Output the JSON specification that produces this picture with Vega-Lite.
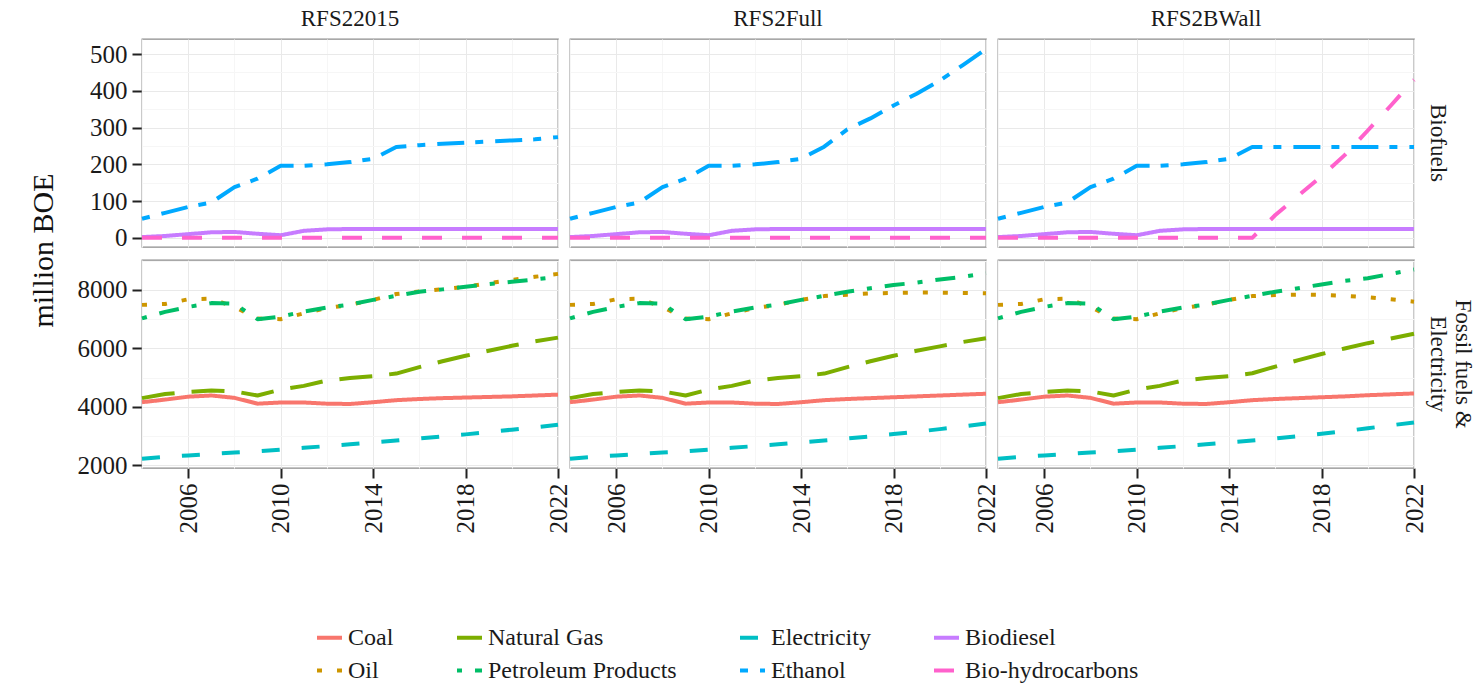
{
"$schema": "https://vega.github.io/schema/vega-lite/v6.json",
"padding": {"left": 28, "top": 8, "right": 2, "bottom": 2},
"title": {"text": "million BOE", "orient": "left", "anchor": "middle", "font": "Liberation Serif", "fontSize": 30, "fontWeight": "normal", "color": "#111111", "offset": 18, "dx": 95},
"data": {"values": [
{"s":"RFS22015","g":"F","f":"Coal","t":2004,"v":4160},{"s":"RFS22015","g":"F","f":"Coal","t":2005,"v":4250},{"s":"RFS22015","g":"F","f":"Coal","t":2006,"v":4350},{"s":"RFS22015","g":"F","f":"Coal","t":2007,"v":4390},{"s":"RFS22015","g":"F","f":"Coal","t":2008,"v":4310},{"s":"RFS22015","g":"F","f":"Coal","t":2009,"v":4110},{"s":"RFS22015","g":"F","f":"Coal","t":2010,"v":4150},{"s":"RFS22015","g":"F","f":"Coal","t":2011,"v":4150},{"s":"RFS22015","g":"F","f":"Coal","t":2012,"v":4110},{"s":"RFS22015","g":"F","f":"Coal","t":2013,"v":4100},{"s":"RFS22015","g":"F","f":"Coal","t":2014,"v":4160},{"s":"RFS22015","g":"F","f":"Coal","t":2015,"v":4230},{"s":"RFS22015","g":"F","f":"Coal","t":2016,"v":4270},{"s":"RFS22015","g":"F","f":"Coal","t":2017,"v":4300},{"s":"RFS22015","g":"F","f":"Coal","t":2018,"v":4320},{"s":"RFS22015","g":"F","f":"Coal","t":2019,"v":4340},{"s":"RFS22015","g":"F","f":"Coal","t":2020,"v":4360},{"s":"RFS22015","g":"F","f":"Coal","t":2021,"v":4390},{"s":"RFS22015","g":"F","f":"Coal","t":2022,"v":4420},
{"s":"RFS22015","g":"F","f":"Oil","t":2004,"v":7490},{"s":"RFS22015","g":"F","f":"Oil","t":2005,"v":7520},{"s":"RFS22015","g":"F","f":"Oil","t":2006,"v":7680},{"s":"RFS22015","g":"F","f":"Oil","t":2007,"v":7700},{"s":"RFS22015","g":"F","f":"Oil","t":2008,"v":7420},{"s":"RFS22015","g":"F","f":"Oil","t":2009,"v":7020},{"s":"RFS22015","g":"F","f":"Oil","t":2010,"v":7000},{"s":"RFS22015","g":"F","f":"Oil","t":2011,"v":7200},{"s":"RFS22015","g":"F","f":"Oil","t":2012,"v":7380},{"s":"RFS22015","g":"F","f":"Oil","t":2013,"v":7490},{"s":"RFS22015","g":"F","f":"Oil","t":2014,"v":7660},{"s":"RFS22015","g":"F","f":"Oil","t":2015,"v":7860},{"s":"RFS22015","g":"F","f":"Oil","t":2016,"v":7950},{"s":"RFS22015","g":"F","f":"Oil","t":2017,"v":8030},{"s":"RFS22015","g":"F","f":"Oil","t":2018,"v":8110},{"s":"RFS22015","g":"F","f":"Oil","t":2019,"v":8230},{"s":"RFS22015","g":"F","f":"Oil","t":2020,"v":8340},{"s":"RFS22015","g":"F","f":"Oil","t":2021,"v":8450},{"s":"RFS22015","g":"F","f":"Oil","t":2022,"v":8550},
{"s":"RFS22015","g":"F","f":"Natural Gas","t":2004,"v":4300},{"s":"RFS22015","g":"F","f":"Natural Gas","t":2005,"v":4440},{"s":"RFS22015","g":"F","f":"Natural Gas","t":2006,"v":4510},{"s":"RFS22015","g":"F","f":"Natural Gas","t":2007,"v":4560},{"s":"RFS22015","g":"F","f":"Natural Gas","t":2008,"v":4530},{"s":"RFS22015","g":"F","f":"Natural Gas","t":2009,"v":4390},{"s":"RFS22015","g":"F","f":"Natural Gas","t":2010,"v":4590},{"s":"RFS22015","g":"F","f":"Natural Gas","t":2011,"v":4720},{"s":"RFS22015","g":"F","f":"Natural Gas","t":2012,"v":4900},{"s":"RFS22015","g":"F","f":"Natural Gas","t":2013,"v":4990},{"s":"RFS22015","g":"F","f":"Natural Gas","t":2014,"v":5050},{"s":"RFS22015","g":"F","f":"Natural Gas","t":2015,"v":5140},{"s":"RFS22015","g":"F","f":"Natural Gas","t":2016,"v":5360},{"s":"RFS22015","g":"F","f":"Natural Gas","t":2017,"v":5560},{"s":"RFS22015","g":"F","f":"Natural Gas","t":2018,"v":5750},{"s":"RFS22015","g":"F","f":"Natural Gas","t":2019,"v":5920},{"s":"RFS22015","g":"F","f":"Natural Gas","t":2020,"v":6090},{"s":"RFS22015","g":"F","f":"Natural Gas","t":2021,"v":6240},{"s":"RFS22015","g":"F","f":"Natural Gas","t":2022,"v":6370},
{"s":"RFS22015","g":"F","f":"Petroleum Products","t":2004,"v":7030},{"s":"RFS22015","g":"F","f":"Petroleum Products","t":2005,"v":7250},{"s":"RFS22015","g":"F","f":"Petroleum Products","t":2006,"v":7420},{"s":"RFS22015","g":"F","f":"Petroleum Products","t":2007,"v":7550},{"s":"RFS22015","g":"F","f":"Petroleum Products","t":2008,"v":7530},{"s":"RFS22015","g":"F","f":"Petroleum Products","t":2009,"v":7000},{"s":"RFS22015","g":"F","f":"Petroleum Products","t":2010,"v":7090},{"s":"RFS22015","g":"F","f":"Petroleum Products","t":2011,"v":7260},{"s":"RFS22015","g":"F","f":"Petroleum Products","t":2012,"v":7400},{"s":"RFS22015","g":"F","f":"Petroleum Products","t":2013,"v":7500},{"s":"RFS22015","g":"F","f":"Petroleum Products","t":2014,"v":7660},{"s":"RFS22015","g":"F","f":"Petroleum Products","t":2015,"v":7800},{"s":"RFS22015","g":"F","f":"Petroleum Products","t":2016,"v":7940},{"s":"RFS22015","g":"F","f":"Petroleum Products","t":2017,"v":8020},{"s":"RFS22015","g":"F","f":"Petroleum Products","t":2018,"v":8110},{"s":"RFS22015","g":"F","f":"Petroleum Products","t":2019,"v":8200},{"s":"RFS22015","g":"F","f":"Petroleum Products","t":2020,"v":8280},{"s":"RFS22015","g":"F","f":"Petroleum Products","t":2021,"v":8360},{"s":"RFS22015","g":"F","f":"Petroleum Products","t":2022,"v":8450},
{"s":"RFS22015","g":"F","f":"Electricity","t":2004,"v":2230},{"s":"RFS22015","g":"F","f":"Electricity","t":2005,"v":2290},{"s":"RFS22015","g":"F","f":"Electricity","t":2006,"v":2340},{"s":"RFS22015","g":"F","f":"Electricity","t":2007,"v":2390},{"s":"RFS22015","g":"F","f":"Electricity","t":2008,"v":2440},{"s":"RFS22015","g":"F","f":"Electricity","t":2009,"v":2480},{"s":"RFS22015","g":"F","f":"Electricity","t":2010,"v":2540},{"s":"RFS22015","g":"F","f":"Electricity","t":2011,"v":2600},{"s":"RFS22015","g":"F","f":"Electricity","t":2012,"v":2660},{"s":"RFS22015","g":"F","f":"Electricity","t":2013,"v":2720},{"s":"RFS22015","g":"F","f":"Electricity","t":2014,"v":2790},{"s":"RFS22015","g":"F","f":"Electricity","t":2015,"v":2850},{"s":"RFS22015","g":"F","f":"Electricity","t":2016,"v":2920},{"s":"RFS22015","g":"F","f":"Electricity","t":2017,"v":2990},{"s":"RFS22015","g":"F","f":"Electricity","t":2018,"v":3060},{"s":"RFS22015","g":"F","f":"Electricity","t":2019,"v":3140},{"s":"RFS22015","g":"F","f":"Electricity","t":2020,"v":3220},{"s":"RFS22015","g":"F","f":"Electricity","t":2021,"v":3300},{"s":"RFS22015","g":"F","f":"Electricity","t":2022,"v":3390},
{"s":"RFS22015","g":"B","f":"Ethanol","t":2004,"v":52},{"s":"RFS22015","g":"B","f":"Ethanol","t":2005,"v":68},{"s":"RFS22015","g":"B","f":"Ethanol","t":2006,"v":84},{"s":"RFS22015","g":"B","f":"Ethanol","t":2007,"v":96},{"s":"RFS22015","g":"B","f":"Ethanol","t":2008,"v":138},{"s":"RFS22015","g":"B","f":"Ethanol","t":2009,"v":161},{"s":"RFS22015","g":"B","f":"Ethanol","t":2010,"v":196},{"s":"RFS22015","g":"B","f":"Ethanol","t":2011,"v":196},{"s":"RFS22015","g":"B","f":"Ethanol","t":2012,"v":200},{"s":"RFS22015","g":"B","f":"Ethanol","t":2013,"v":206},{"s":"RFS22015","g":"B","f":"Ethanol","t":2014,"v":215},{"s":"RFS22015","g":"B","f":"Ethanol","t":2015,"v":247},{"s":"RFS22015","g":"B","f":"Ethanol","t":2016,"v":252},{"s":"RFS22015","g":"B","f":"Ethanol","t":2017,"v":256},{"s":"RFS22015","g":"B","f":"Ethanol","t":2018,"v":259},{"s":"RFS22015","g":"B","f":"Ethanol","t":2019,"v":262},{"s":"RFS22015","g":"B","f":"Ethanol","t":2020,"v":265},{"s":"RFS22015","g":"B","f":"Ethanol","t":2021,"v":268},{"s":"RFS22015","g":"B","f":"Ethanol","t":2022,"v":274},
{"s":"RFS22015","g":"B","f":"Biodiesel","t":2004,"v":2},{"s":"RFS22015","g":"B","f":"Biodiesel","t":2005,"v":5},{"s":"RFS22015","g":"B","f":"Biodiesel","t":2006,"v":10},{"s":"RFS22015","g":"B","f":"Biodiesel","t":2007,"v":15},{"s":"RFS22015","g":"B","f":"Biodiesel","t":2008,"v":16},{"s":"RFS22015","g":"B","f":"Biodiesel","t":2009,"v":11},{"s":"RFS22015","g":"B","f":"Biodiesel","t":2010,"v":7},{"s":"RFS22015","g":"B","f":"Biodiesel","t":2011,"v":19},{"s":"RFS22015","g":"B","f":"Biodiesel","t":2012,"v":23},{"s":"RFS22015","g":"B","f":"Biodiesel","t":2013,"v":24},{"s":"RFS22015","g":"B","f":"Biodiesel","t":2014,"v":24},{"s":"RFS22015","g":"B","f":"Biodiesel","t":2015,"v":24},{"s":"RFS22015","g":"B","f":"Biodiesel","t":2016,"v":24},{"s":"RFS22015","g":"B","f":"Biodiesel","t":2017,"v":24},{"s":"RFS22015","g":"B","f":"Biodiesel","t":2018,"v":24},{"s":"RFS22015","g":"B","f":"Biodiesel","t":2019,"v":24},{"s":"RFS22015","g":"B","f":"Biodiesel","t":2020,"v":24},{"s":"RFS22015","g":"B","f":"Biodiesel","t":2021,"v":24},{"s":"RFS22015","g":"B","f":"Biodiesel","t":2022,"v":24},
{"s":"RFS22015","g":"B","f":"Bio-hydrocarbons","t":2004,"v":0},{"s":"RFS22015","g":"B","f":"Bio-hydrocarbons","t":2005,"v":0},{"s":"RFS22015","g":"B","f":"Bio-hydrocarbons","t":2006,"v":0},{"s":"RFS22015","g":"B","f":"Bio-hydrocarbons","t":2007,"v":0},{"s":"RFS22015","g":"B","f":"Bio-hydrocarbons","t":2008,"v":0},{"s":"RFS22015","g":"B","f":"Bio-hydrocarbons","t":2009,"v":0},{"s":"RFS22015","g":"B","f":"Bio-hydrocarbons","t":2010,"v":0},{"s":"RFS22015","g":"B","f":"Bio-hydrocarbons","t":2011,"v":0},{"s":"RFS22015","g":"B","f":"Bio-hydrocarbons","t":2012,"v":0},{"s":"RFS22015","g":"B","f":"Bio-hydrocarbons","t":2013,"v":0},{"s":"RFS22015","g":"B","f":"Bio-hydrocarbons","t":2014,"v":0},{"s":"RFS22015","g":"B","f":"Bio-hydrocarbons","t":2015,"v":0},{"s":"RFS22015","g":"B","f":"Bio-hydrocarbons","t":2016,"v":0},{"s":"RFS22015","g":"B","f":"Bio-hydrocarbons","t":2017,"v":0},{"s":"RFS22015","g":"B","f":"Bio-hydrocarbons","t":2018,"v":0},{"s":"RFS22015","g":"B","f":"Bio-hydrocarbons","t":2019,"v":0},{"s":"RFS22015","g":"B","f":"Bio-hydrocarbons","t":2020,"v":0},{"s":"RFS22015","g":"B","f":"Bio-hydrocarbons","t":2021,"v":0},{"s":"RFS22015","g":"B","f":"Bio-hydrocarbons","t":2022,"v":0},
{"s":"RFS2Full","g":"F","f":"Coal","t":2004,"v":4160},{"s":"RFS2Full","g":"F","f":"Coal","t":2005,"v":4250},{"s":"RFS2Full","g":"F","f":"Coal","t":2006,"v":4350},{"s":"RFS2Full","g":"F","f":"Coal","t":2007,"v":4390},{"s":"RFS2Full","g":"F","f":"Coal","t":2008,"v":4310},{"s":"RFS2Full","g":"F","f":"Coal","t":2009,"v":4110},{"s":"RFS2Full","g":"F","f":"Coal","t":2010,"v":4150},{"s":"RFS2Full","g":"F","f":"Coal","t":2011,"v":4150},{"s":"RFS2Full","g":"F","f":"Coal","t":2012,"v":4110},{"s":"RFS2Full","g":"F","f":"Coal","t":2013,"v":4100},{"s":"RFS2Full","g":"F","f":"Coal","t":2014,"v":4160},{"s":"RFS2Full","g":"F","f":"Coal","t":2015,"v":4230},{"s":"RFS2Full","g":"F","f":"Coal","t":2016,"v":4270},{"s":"RFS2Full","g":"F","f":"Coal","t":2017,"v":4300},{"s":"RFS2Full","g":"F","f":"Coal","t":2018,"v":4330},{"s":"RFS2Full","g":"F","f":"Coal","t":2019,"v":4360},{"s":"RFS2Full","g":"F","f":"Coal","t":2020,"v":4390},{"s":"RFS2Full","g":"F","f":"Coal","t":2021,"v":4420},{"s":"RFS2Full","g":"F","f":"Coal","t":2022,"v":4450},
{"s":"RFS2Full","g":"F","f":"Oil","t":2004,"v":7490},{"s":"RFS2Full","g":"F","f":"Oil","t":2005,"v":7520},{"s":"RFS2Full","g":"F","f":"Oil","t":2006,"v":7680},{"s":"RFS2Full","g":"F","f":"Oil","t":2007,"v":7700},{"s":"RFS2Full","g":"F","f":"Oil","t":2008,"v":7420},{"s":"RFS2Full","g":"F","f":"Oil","t":2009,"v":7020},{"s":"RFS2Full","g":"F","f":"Oil","t":2010,"v":7000},{"s":"RFS2Full","g":"F","f":"Oil","t":2011,"v":7200},{"s":"RFS2Full","g":"F","f":"Oil","t":2012,"v":7380},{"s":"RFS2Full","g":"F","f":"Oil","t":2013,"v":7490},{"s":"RFS2Full","g":"F","f":"Oil","t":2014,"v":7660},{"s":"RFS2Full","g":"F","f":"Oil","t":2015,"v":7790},{"s":"RFS2Full","g":"F","f":"Oil","t":2016,"v":7840},{"s":"RFS2Full","g":"F","f":"Oil","t":2017,"v":7880},{"s":"RFS2Full","g":"F","f":"Oil","t":2018,"v":7900},{"s":"RFS2Full","g":"F","f":"Oil","t":2019,"v":7910},{"s":"RFS2Full","g":"F","f":"Oil","t":2020,"v":7910},{"s":"RFS2Full","g":"F","f":"Oil","t":2021,"v":7900},{"s":"RFS2Full","g":"F","f":"Oil","t":2022,"v":7890},
{"s":"RFS2Full","g":"F","f":"Natural Gas","t":2004,"v":4300},{"s":"RFS2Full","g":"F","f":"Natural Gas","t":2005,"v":4440},{"s":"RFS2Full","g":"F","f":"Natural Gas","t":2006,"v":4510},{"s":"RFS2Full","g":"F","f":"Natural Gas","t":2007,"v":4560},{"s":"RFS2Full","g":"F","f":"Natural Gas","t":2008,"v":4530},{"s":"RFS2Full","g":"F","f":"Natural Gas","t":2009,"v":4390},{"s":"RFS2Full","g":"F","f":"Natural Gas","t":2010,"v":4590},{"s":"RFS2Full","g":"F","f":"Natural Gas","t":2011,"v":4720},{"s":"RFS2Full","g":"F","f":"Natural Gas","t":2012,"v":4900},{"s":"RFS2Full","g":"F","f":"Natural Gas","t":2013,"v":4990},{"s":"RFS2Full","g":"F","f":"Natural Gas","t":2014,"v":5050},{"s":"RFS2Full","g":"F","f":"Natural Gas","t":2015,"v":5140},{"s":"RFS2Full","g":"F","f":"Natural Gas","t":2016,"v":5360},{"s":"RFS2Full","g":"F","f":"Natural Gas","t":2017,"v":5560},{"s":"RFS2Full","g":"F","f":"Natural Gas","t":2018,"v":5750},{"s":"RFS2Full","g":"F","f":"Natural Gas","t":2019,"v":5920},{"s":"RFS2Full","g":"F","f":"Natural Gas","t":2020,"v":6070},{"s":"RFS2Full","g":"F","f":"Natural Gas","t":2021,"v":6220},{"s":"RFS2Full","g":"F","f":"Natural Gas","t":2022,"v":6350},
{"s":"RFS2Full","g":"F","f":"Petroleum Products","t":2004,"v":7030},{"s":"RFS2Full","g":"F","f":"Petroleum Products","t":2005,"v":7250},{"s":"RFS2Full","g":"F","f":"Petroleum Products","t":2006,"v":7420},{"s":"RFS2Full","g":"F","f":"Petroleum Products","t":2007,"v":7550},{"s":"RFS2Full","g":"F","f":"Petroleum Products","t":2008,"v":7530},{"s":"RFS2Full","g":"F","f":"Petroleum Products","t":2009,"v":7000},{"s":"RFS2Full","g":"F","f":"Petroleum Products","t":2010,"v":7090},{"s":"RFS2Full","g":"F","f":"Petroleum Products","t":2011,"v":7260},{"s":"RFS2Full","g":"F","f":"Petroleum Products","t":2012,"v":7400},{"s":"RFS2Full","g":"F","f":"Petroleum Products","t":2013,"v":7500},{"s":"RFS2Full","g":"F","f":"Petroleum Products","t":2014,"v":7660},{"s":"RFS2Full","g":"F","f":"Petroleum Products","t":2015,"v":7800},{"s":"RFS2Full","g":"F","f":"Petroleum Products","t":2016,"v":7940},{"s":"RFS2Full","g":"F","f":"Petroleum Products","t":2017,"v":8060},{"s":"RFS2Full","g":"F","f":"Petroleum Products","t":2018,"v":8170},{"s":"RFS2Full","g":"F","f":"Petroleum Products","t":2019,"v":8250},{"s":"RFS2Full","g":"F","f":"Petroleum Products","t":2020,"v":8360},{"s":"RFS2Full","g":"F","f":"Petroleum Products","t":2021,"v":8450},{"s":"RFS2Full","g":"F","f":"Petroleum Products","t":2022,"v":8570},
{"s":"RFS2Full","g":"F","f":"Electricity","t":2004,"v":2230},{"s":"RFS2Full","g":"F","f":"Electricity","t":2005,"v":2290},{"s":"RFS2Full","g":"F","f":"Electricity","t":2006,"v":2340},{"s":"RFS2Full","g":"F","f":"Electricity","t":2007,"v":2390},{"s":"RFS2Full","g":"F","f":"Electricity","t":2008,"v":2440},{"s":"RFS2Full","g":"F","f":"Electricity","t":2009,"v":2480},{"s":"RFS2Full","g":"F","f":"Electricity","t":2010,"v":2540},{"s":"RFS2Full","g":"F","f":"Electricity","t":2011,"v":2600},{"s":"RFS2Full","g":"F","f":"Electricity","t":2012,"v":2660},{"s":"RFS2Full","g":"F","f":"Electricity","t":2013,"v":2720},{"s":"RFS2Full","g":"F","f":"Electricity","t":2014,"v":2790},{"s":"RFS2Full","g":"F","f":"Electricity","t":2015,"v":2850},{"s":"RFS2Full","g":"F","f":"Electricity","t":2016,"v":2920},{"s":"RFS2Full","g":"F","f":"Electricity","t":2017,"v":2990},{"s":"RFS2Full","g":"F","f":"Electricity","t":2018,"v":3070},{"s":"RFS2Full","g":"F","f":"Electricity","t":2019,"v":3150},{"s":"RFS2Full","g":"F","f":"Electricity","t":2020,"v":3240},{"s":"RFS2Full","g":"F","f":"Electricity","t":2021,"v":3330},{"s":"RFS2Full","g":"F","f":"Electricity","t":2022,"v":3430},
{"s":"RFS2Full","g":"B","f":"Ethanol","t":2004,"v":52},{"s":"RFS2Full","g":"B","f":"Ethanol","t":2005,"v":68},{"s":"RFS2Full","g":"B","f":"Ethanol","t":2006,"v":84},{"s":"RFS2Full","g":"B","f":"Ethanol","t":2007,"v":96},{"s":"RFS2Full","g":"B","f":"Ethanol","t":2008,"v":138},{"s":"RFS2Full","g":"B","f":"Ethanol","t":2009,"v":161},{"s":"RFS2Full","g":"B","f":"Ethanol","t":2010,"v":196},{"s":"RFS2Full","g":"B","f":"Ethanol","t":2011,"v":196},{"s":"RFS2Full","g":"B","f":"Ethanol","t":2012,"v":200},{"s":"RFS2Full","g":"B","f":"Ethanol","t":2013,"v":206},{"s":"RFS2Full","g":"B","f":"Ethanol","t":2014,"v":215},{"s":"RFS2Full","g":"B","f":"Ethanol","t":2015,"v":248},{"s":"RFS2Full","g":"B","f":"Ethanol","t":2016,"v":295},{"s":"RFS2Full","g":"B","f":"Ethanol","t":2017,"v":325},{"s":"RFS2Full","g":"B","f":"Ethanol","t":2018,"v":360},{"s":"RFS2Full","g":"B","f":"Ethanol","t":2019,"v":392},{"s":"RFS2Full","g":"B","f":"Ethanol","t":2020,"v":428},{"s":"RFS2Full","g":"B","f":"Ethanol","t":2021,"v":470},{"s":"RFS2Full","g":"B","f":"Ethanol","t":2022,"v":514},
{"s":"RFS2Full","g":"B","f":"Biodiesel","t":2004,"v":2},{"s":"RFS2Full","g":"B","f":"Biodiesel","t":2005,"v":5},{"s":"RFS2Full","g":"B","f":"Biodiesel","t":2006,"v":10},{"s":"RFS2Full","g":"B","f":"Biodiesel","t":2007,"v":15},{"s":"RFS2Full","g":"B","f":"Biodiesel","t":2008,"v":16},{"s":"RFS2Full","g":"B","f":"Biodiesel","t":2009,"v":11},{"s":"RFS2Full","g":"B","f":"Biodiesel","t":2010,"v":7},{"s":"RFS2Full","g":"B","f":"Biodiesel","t":2011,"v":19},{"s":"RFS2Full","g":"B","f":"Biodiesel","t":2012,"v":23},{"s":"RFS2Full","g":"B","f":"Biodiesel","t":2013,"v":24},{"s":"RFS2Full","g":"B","f":"Biodiesel","t":2014,"v":24},{"s":"RFS2Full","g":"B","f":"Biodiesel","t":2015,"v":24},{"s":"RFS2Full","g":"B","f":"Biodiesel","t":2016,"v":24},{"s":"RFS2Full","g":"B","f":"Biodiesel","t":2017,"v":24},{"s":"RFS2Full","g":"B","f":"Biodiesel","t":2018,"v":24},{"s":"RFS2Full","g":"B","f":"Biodiesel","t":2019,"v":24},{"s":"RFS2Full","g":"B","f":"Biodiesel","t":2020,"v":24},{"s":"RFS2Full","g":"B","f":"Biodiesel","t":2021,"v":24},{"s":"RFS2Full","g":"B","f":"Biodiesel","t":2022,"v":24},
{"s":"RFS2Full","g":"B","f":"Bio-hydrocarbons","t":2004,"v":0},{"s":"RFS2Full","g":"B","f":"Bio-hydrocarbons","t":2005,"v":0},{"s":"RFS2Full","g":"B","f":"Bio-hydrocarbons","t":2006,"v":0},{"s":"RFS2Full","g":"B","f":"Bio-hydrocarbons","t":2007,"v":0},{"s":"RFS2Full","g":"B","f":"Bio-hydrocarbons","t":2008,"v":0},{"s":"RFS2Full","g":"B","f":"Bio-hydrocarbons","t":2009,"v":0},{"s":"RFS2Full","g":"B","f":"Bio-hydrocarbons","t":2010,"v":0},{"s":"RFS2Full","g":"B","f":"Bio-hydrocarbons","t":2011,"v":0},{"s":"RFS2Full","g":"B","f":"Bio-hydrocarbons","t":2012,"v":0},{"s":"RFS2Full","g":"B","f":"Bio-hydrocarbons","t":2013,"v":0},{"s":"RFS2Full","g":"B","f":"Bio-hydrocarbons","t":2014,"v":0},{"s":"RFS2Full","g":"B","f":"Bio-hydrocarbons","t":2015,"v":0},{"s":"RFS2Full","g":"B","f":"Bio-hydrocarbons","t":2016,"v":0},{"s":"RFS2Full","g":"B","f":"Bio-hydrocarbons","t":2017,"v":0},{"s":"RFS2Full","g":"B","f":"Bio-hydrocarbons","t":2018,"v":0},{"s":"RFS2Full","g":"B","f":"Bio-hydrocarbons","t":2019,"v":0},{"s":"RFS2Full","g":"B","f":"Bio-hydrocarbons","t":2020,"v":0},{"s":"RFS2Full","g":"B","f":"Bio-hydrocarbons","t":2021,"v":0},{"s":"RFS2Full","g":"B","f":"Bio-hydrocarbons","t":2022,"v":0},
{"s":"RFS2BWall","g":"F","f":"Coal","t":2004,"v":4160},{"s":"RFS2BWall","g":"F","f":"Coal","t":2005,"v":4250},{"s":"RFS2BWall","g":"F","f":"Coal","t":2006,"v":4350},{"s":"RFS2BWall","g":"F","f":"Coal","t":2007,"v":4390},{"s":"RFS2BWall","g":"F","f":"Coal","t":2008,"v":4310},{"s":"RFS2BWall","g":"F","f":"Coal","t":2009,"v":4110},{"s":"RFS2BWall","g":"F","f":"Coal","t":2010,"v":4150},{"s":"RFS2BWall","g":"F","f":"Coal","t":2011,"v":4150},{"s":"RFS2BWall","g":"F","f":"Coal","t":2012,"v":4110},{"s":"RFS2BWall","g":"F","f":"Coal","t":2013,"v":4100},{"s":"RFS2BWall","g":"F","f":"Coal","t":2014,"v":4160},{"s":"RFS2BWall","g":"F","f":"Coal","t":2015,"v":4230},{"s":"RFS2BWall","g":"F","f":"Coal","t":2016,"v":4270},{"s":"RFS2BWall","g":"F","f":"Coal","t":2017,"v":4300},{"s":"RFS2BWall","g":"F","f":"Coal","t":2018,"v":4330},{"s":"RFS2BWall","g":"F","f":"Coal","t":2019,"v":4360},{"s":"RFS2BWall","g":"F","f":"Coal","t":2020,"v":4400},{"s":"RFS2BWall","g":"F","f":"Coal","t":2021,"v":4430},{"s":"RFS2BWall","g":"F","f":"Coal","t":2022,"v":4460},
{"s":"RFS2BWall","g":"F","f":"Oil","t":2004,"v":7490},{"s":"RFS2BWall","g":"F","f":"Oil","t":2005,"v":7520},{"s":"RFS2BWall","g":"F","f":"Oil","t":2006,"v":7680},{"s":"RFS2BWall","g":"F","f":"Oil","t":2007,"v":7700},{"s":"RFS2BWall","g":"F","f":"Oil","t":2008,"v":7420},{"s":"RFS2BWall","g":"F","f":"Oil","t":2009,"v":7020},{"s":"RFS2BWall","g":"F","f":"Oil","t":2010,"v":7000},{"s":"RFS2BWall","g":"F","f":"Oil","t":2011,"v":7200},{"s":"RFS2BWall","g":"F","f":"Oil","t":2012,"v":7380},{"s":"RFS2BWall","g":"F","f":"Oil","t":2013,"v":7490},{"s":"RFS2BWall","g":"F","f":"Oil","t":2014,"v":7660},{"s":"RFS2BWall","g":"F","f":"Oil","t":2015,"v":7790},{"s":"RFS2BWall","g":"F","f":"Oil","t":2016,"v":7830},{"s":"RFS2BWall","g":"F","f":"Oil","t":2017,"v":7840},{"s":"RFS2BWall","g":"F","f":"Oil","t":2018,"v":7830},{"s":"RFS2BWall","g":"F","f":"Oil","t":2019,"v":7800},{"s":"RFS2BWall","g":"F","f":"Oil","t":2020,"v":7750},{"s":"RFS2BWall","g":"F","f":"Oil","t":2021,"v":7680},{"s":"RFS2BWall","g":"F","f":"Oil","t":2022,"v":7600},
{"s":"RFS2BWall","g":"F","f":"Natural Gas","t":2004,"v":4300},{"s":"RFS2BWall","g":"F","f":"Natural Gas","t":2005,"v":4440},{"s":"RFS2BWall","g":"F","f":"Natural Gas","t":2006,"v":4510},{"s":"RFS2BWall","g":"F","f":"Natural Gas","t":2007,"v":4560},{"s":"RFS2BWall","g":"F","f":"Natural Gas","t":2008,"v":4530},{"s":"RFS2BWall","g":"F","f":"Natural Gas","t":2009,"v":4390},{"s":"RFS2BWall","g":"F","f":"Natural Gas","t":2010,"v":4590},{"s":"RFS2BWall","g":"F","f":"Natural Gas","t":2011,"v":4720},{"s":"RFS2BWall","g":"F","f":"Natural Gas","t":2012,"v":4900},{"s":"RFS2BWall","g":"F","f":"Natural Gas","t":2013,"v":4990},{"s":"RFS2BWall","g":"F","f":"Natural Gas","t":2014,"v":5050},{"s":"RFS2BWall","g":"F","f":"Natural Gas","t":2015,"v":5150},{"s":"RFS2BWall","g":"F","f":"Natural Gas","t":2016,"v":5380},{"s":"RFS2BWall","g":"F","f":"Natural Gas","t":2017,"v":5600},{"s":"RFS2BWall","g":"F","f":"Natural Gas","t":2018,"v":5810},{"s":"RFS2BWall","g":"F","f":"Natural Gas","t":2019,"v":6000},{"s":"RFS2BWall","g":"F","f":"Natural Gas","t":2020,"v":6180},{"s":"RFS2BWall","g":"F","f":"Natural Gas","t":2021,"v":6340},{"s":"RFS2BWall","g":"F","f":"Natural Gas","t":2022,"v":6500},
{"s":"RFS2BWall","g":"F","f":"Petroleum Products","t":2004,"v":7030},{"s":"RFS2BWall","g":"F","f":"Petroleum Products","t":2005,"v":7250},{"s":"RFS2BWall","g":"F","f":"Petroleum Products","t":2006,"v":7420},{"s":"RFS2BWall","g":"F","f":"Petroleum Products","t":2007,"v":7550},{"s":"RFS2BWall","g":"F","f":"Petroleum Products","t":2008,"v":7530},{"s":"RFS2BWall","g":"F","f":"Petroleum Products","t":2009,"v":7000},{"s":"RFS2BWall","g":"F","f":"Petroleum Products","t":2010,"v":7090},{"s":"RFS2BWall","g":"F","f":"Petroleum Products","t":2011,"v":7260},{"s":"RFS2BWall","g":"F","f":"Petroleum Products","t":2012,"v":7400},{"s":"RFS2BWall","g":"F","f":"Petroleum Products","t":2013,"v":7500},{"s":"RFS2BWall","g":"F","f":"Petroleum Products","t":2014,"v":7660},{"s":"RFS2BWall","g":"F","f":"Petroleum Products","t":2015,"v":7800},{"s":"RFS2BWall","g":"F","f":"Petroleum Products","t":2016,"v":7940},{"s":"RFS2BWall","g":"F","f":"Petroleum Products","t":2017,"v":8060},{"s":"RFS2BWall","g":"F","f":"Petroleum Products","t":2018,"v":8190},{"s":"RFS2BWall","g":"F","f":"Petroleum Products","t":2019,"v":8310},{"s":"RFS2BWall","g":"F","f":"Petroleum Products","t":2020,"v":8400},{"s":"RFS2BWall","g":"F","f":"Petroleum Products","t":2021,"v":8550},{"s":"RFS2BWall","g":"F","f":"Petroleum Products","t":2022,"v":8700},
{"s":"RFS2BWall","g":"F","f":"Electricity","t":2004,"v":2230},{"s":"RFS2BWall","g":"F","f":"Electricity","t":2005,"v":2290},{"s":"RFS2BWall","g":"F","f":"Electricity","t":2006,"v":2340},{"s":"RFS2BWall","g":"F","f":"Electricity","t":2007,"v":2390},{"s":"RFS2BWall","g":"F","f":"Electricity","t":2008,"v":2440},{"s":"RFS2BWall","g":"F","f":"Electricity","t":2009,"v":2480},{"s":"RFS2BWall","g":"F","f":"Electricity","t":2010,"v":2540},{"s":"RFS2BWall","g":"F","f":"Electricity","t":2011,"v":2600},{"s":"RFS2BWall","g":"F","f":"Electricity","t":2012,"v":2660},{"s":"RFS2BWall","g":"F","f":"Electricity","t":2013,"v":2720},{"s":"RFS2BWall","g":"F","f":"Electricity","t":2014,"v":2790},{"s":"RFS2BWall","g":"F","f":"Electricity","t":2015,"v":2850},{"s":"RFS2BWall","g":"F","f":"Electricity","t":2016,"v":2920},{"s":"RFS2BWall","g":"F","f":"Electricity","t":2017,"v":3000},{"s":"RFS2BWall","g":"F","f":"Electricity","t":2018,"v":3080},{"s":"RFS2BWall","g":"F","f":"Electricity","t":2019,"v":3170},{"s":"RFS2BWall","g":"F","f":"Electricity","t":2020,"v":3270},{"s":"RFS2BWall","g":"F","f":"Electricity","t":2021,"v":3370},{"s":"RFS2BWall","g":"F","f":"Electricity","t":2022,"v":3470},
{"s":"RFS2BWall","g":"B","f":"Ethanol","t":2004,"v":52},{"s":"RFS2BWall","g":"B","f":"Ethanol","t":2005,"v":68},{"s":"RFS2BWall","g":"B","f":"Ethanol","t":2006,"v":84},{"s":"RFS2BWall","g":"B","f":"Ethanol","t":2007,"v":96},{"s":"RFS2BWall","g":"B","f":"Ethanol","t":2008,"v":138},{"s":"RFS2BWall","g":"B","f":"Ethanol","t":2009,"v":161},{"s":"RFS2BWall","g":"B","f":"Ethanol","t":2010,"v":196},{"s":"RFS2BWall","g":"B","f":"Ethanol","t":2011,"v":196},{"s":"RFS2BWall","g":"B","f":"Ethanol","t":2012,"v":200},{"s":"RFS2BWall","g":"B","f":"Ethanol","t":2013,"v":206},{"s":"RFS2BWall","g":"B","f":"Ethanol","t":2014,"v":215},{"s":"RFS2BWall","g":"B","f":"Ethanol","t":2015,"v":247},{"s":"RFS2BWall","g":"B","f":"Ethanol","t":2016,"v":247},{"s":"RFS2BWall","g":"B","f":"Ethanol","t":2017,"v":247},{"s":"RFS2BWall","g":"B","f":"Ethanol","t":2018,"v":247},{"s":"RFS2BWall","g":"B","f":"Ethanol","t":2019,"v":247},{"s":"RFS2BWall","g":"B","f":"Ethanol","t":2020,"v":247},{"s":"RFS2BWall","g":"B","f":"Ethanol","t":2021,"v":247},{"s":"RFS2BWall","g":"B","f":"Ethanol","t":2022,"v":247},
{"s":"RFS2BWall","g":"B","f":"Biodiesel","t":2004,"v":2},{"s":"RFS2BWall","g":"B","f":"Biodiesel","t":2005,"v":5},{"s":"RFS2BWall","g":"B","f":"Biodiesel","t":2006,"v":10},{"s":"RFS2BWall","g":"B","f":"Biodiesel","t":2007,"v":15},{"s":"RFS2BWall","g":"B","f":"Biodiesel","t":2008,"v":16},{"s":"RFS2BWall","g":"B","f":"Biodiesel","t":2009,"v":11},{"s":"RFS2BWall","g":"B","f":"Biodiesel","t":2010,"v":7},{"s":"RFS2BWall","g":"B","f":"Biodiesel","t":2011,"v":19},{"s":"RFS2BWall","g":"B","f":"Biodiesel","t":2012,"v":23},{"s":"RFS2BWall","g":"B","f":"Biodiesel","t":2013,"v":24},{"s":"RFS2BWall","g":"B","f":"Biodiesel","t":2014,"v":24},{"s":"RFS2BWall","g":"B","f":"Biodiesel","t":2015,"v":24},{"s":"RFS2BWall","g":"B","f":"Biodiesel","t":2016,"v":24},{"s":"RFS2BWall","g":"B","f":"Biodiesel","t":2017,"v":24},{"s":"RFS2BWall","g":"B","f":"Biodiesel","t":2018,"v":24},{"s":"RFS2BWall","g":"B","f":"Biodiesel","t":2019,"v":24},{"s":"RFS2BWall","g":"B","f":"Biodiesel","t":2020,"v":24},{"s":"RFS2BWall","g":"B","f":"Biodiesel","t":2021,"v":24},{"s":"RFS2BWall","g":"B","f":"Biodiesel","t":2022,"v":24},
{"s":"RFS2BWall","g":"B","f":"Bio-hydrocarbons","t":2004,"v":0},{"s":"RFS2BWall","g":"B","f":"Bio-hydrocarbons","t":2005,"v":0},{"s":"RFS2BWall","g":"B","f":"Bio-hydrocarbons","t":2006,"v":0},{"s":"RFS2BWall","g":"B","f":"Bio-hydrocarbons","t":2007,"v":0},{"s":"RFS2BWall","g":"B","f":"Bio-hydrocarbons","t":2008,"v":0},{"s":"RFS2BWall","g":"B","f":"Bio-hydrocarbons","t":2009,"v":0},{"s":"RFS2BWall","g":"B","f":"Bio-hydrocarbons","t":2010,"v":0},{"s":"RFS2BWall","g":"B","f":"Bio-hydrocarbons","t":2011,"v":0},{"s":"RFS2BWall","g":"B","f":"Bio-hydrocarbons","t":2012,"v":0},{"s":"RFS2BWall","g":"B","f":"Bio-hydrocarbons","t":2013,"v":0},{"s":"RFS2BWall","g":"B","f":"Bio-hydrocarbons","t":2014,"v":0},{"s":"RFS2BWall","g":"B","f":"Bio-hydrocarbons","t":2015,"v":0},{"s":"RFS2BWall","g":"B","f":"Bio-hydrocarbons","t":2016,"v":62},{"s":"RFS2BWall","g":"B","f":"Bio-hydrocarbons","t":2017,"v":115},{"s":"RFS2BWall","g":"B","f":"Bio-hydrocarbons","t":2018,"v":168},{"s":"RFS2BWall","g":"B","f":"Bio-hydrocarbons","t":2019,"v":225},{"s":"RFS2BWall","g":"B","f":"Bio-hydrocarbons","t":2020,"v":292},{"s":"RFS2BWall","g":"B","f":"Bio-hydrocarbons","t":2021,"v":360},{"s":"RFS2BWall","g":"B","f":"Bio-hydrocarbons","t":2022,"v":430}
]},
"spacing": 8,
"vconcat": [
{
"transform": [{"filter": "datum.g === 'B'"}],
"facet": {
"row": {"field": "g", "type": "nominal", "title": null, "header": {"labelOrient": "right", "labelAngle": 90, "labelPadding": 12, "labelExpr": "datum.value === 'B' ? 'Biofuels' : ['Fossil fuels &', 'Electricity']"}},
"column": {"field": "s", "type": "nominal", "title": null, "sort": ["RFS22015", "RFS2Full", "RFS2BWall"], "header": {"labelOrient": "top", "labelPadding": 8}}
},
"spacing": {"column": 12},
"bounds": "flush",
"spec": {
"width": 416, "height": 208,
"mark": {"type": "line", "strokeWidth": 4, "strokeCap": "butt", "strokeJoin": "round"},
"encoding": {
"x": {"field": "t", "type": "quantitative", "scale": {"domain": [2004, 2022], "nice": false, "zero": false}, "axis": {"values": [2004,2006,2008,2010,2012,2014,2016,2018,2020,2022], "labels": false, "ticks": false, "title": null, "gridColor": {"condition": {"test": "(datum.value - 2006) % 4 === 0", "value": "#e9e9e9"}, "value": "#f6f6f6"}}},
"y": {"field": "v", "type": "quantitative", "scale": {"domain": [-25, 541], "nice": false, "zero": false}, "axis": {"values": [0,50,100,150,200,250,300,350,400,450,500], "title": null, "labelExpr": "datum.value % 100 === 0 ? datum.label : ''", "tickOpacity": {"condition": {"test": "datum.value % 100 !== 0", "value": 0}, "value": 1}, "gridColor": {"condition": {"test": "datum.value % 100 === 0", "value": "#e9e9e9"}, "value": "#f6f6f6"}}},
"color": {"field": "f", "type": "nominal", "scale": {"domain": ["Coal","Natural Gas","Electricity","Biodiesel","Oil","Petroleum Products","Ethanol","Bio-hydrocarbons"], "range": ["#F8766D","#7CAE00","#00BFC4","#C77CFF","#CD9600","#00BE67","#00A9FF","#FF61CC"]}, "legend": {"title": null}},
"strokeDash": {"field": "f", "type": "nominal", "scale": {"domain": ["Coal","Natural Gas","Electricity","Biodiesel","Oil","Petroleum Products","Ethanol","Bio-hydrocarbons"], "range": [[1,0],[33,17],[18,22],[1,0],[5,15],[5,13,20,13],[8,12,27,11],[20,20]]}, "legend": {"title": null}}
}
}
},
{
"transform": [{"filter": "datum.g === 'F'"}],
"facet": {
"row": {"field": "g", "type": "nominal", "title": null, "header": {"labelOrient": "right", "labelAngle": 90, "labelPadding": 12, "labelExpr": "datum.value === 'B' ? 'Biofuels' : ['Fossil fuels &', 'Electricity']"}},
"column": {"field": "s", "type": "nominal", "title": null, "sort": ["RFS22015", "RFS2Full", "RFS2BWall"], "header": {"labels": false}}
},
"spacing": {"column": 12},
"bounds": "flush",
"spec": {
"width": 416, "height": 208,
"mark": {"type": "line", "strokeWidth": 4, "strokeCap": "butt", "strokeJoin": "round"},
"encoding": {
"x": {"field": "t", "type": "quantitative", "scale": {"domain": [2004, 2022], "nice": false, "zero": false}, "axis": {"values": [2004,2006,2008,2010,2012,2014,2016,2018,2020,2022], "format": "d", "labelAngle": -90, "title": null, "labelExpr": "(datum.value - 2006) % 4 === 0 ? datum.label : ''", "tickOpacity": {"condition": {"test": "(datum.value - 2006) % 4 !== 0", "value": 0}, "value": 1}, "gridColor": {"condition": {"test": "(datum.value - 2006) % 4 === 0", "value": "#e9e9e9"}, "value": "#f6f6f6"}}},
"y": {"field": "v", "type": "quantitative", "scale": {"domain": [1910, 9025], "nice": false, "zero": false}, "axis": {"values": [2000,3000,4000,5000,6000,7000,8000,9000], "format": "d", "title": null, "labelExpr": "datum.value % 2000 === 0 ? datum.label : ''", "tickOpacity": {"condition": {"test": "datum.value % 2000 !== 0", "value": 0}, "value": 1}, "gridColor": {"condition": {"test": "datum.value % 2000 === 0", "value": "#e9e9e9"}, "value": "#f6f6f6"}}},
"color": {"field": "f", "type": "nominal", "scale": {"domain": ["Coal","Natural Gas","Electricity","Biodiesel","Oil","Petroleum Products","Ethanol","Bio-hydrocarbons"], "range": ["#F8766D","#7CAE00","#00BFC4","#C77CFF","#CD9600","#00BE67","#00A9FF","#FF61CC"]}, "legend": {"title": null}},
"strokeDash": {"field": "f", "type": "nominal", "scale": {"domain": ["Coal","Natural Gas","Electricity","Biodiesel","Oil","Petroleum Products","Ethanol","Bio-hydrocarbons"], "range": [[1,0],[33,17],[18,22],[1,0],[5,15],[5,13,20,13],[8,12,27,11],[20,20]]}, "legend": {"title": null}}
}
}
}
],
"config": {
"font": "Liberation Serif",
"view": {"stroke": "#8c8c8c", "strokeWidth": 1.3},
"axis": {"labelFont": "Liberation Serif", "labelFontSize": 25, "labelColor": "#1a1a1a", "tickColor": "#222222", "tickWidth": 2, "tickSize": 10, "domain": false, "labelPadding": 5, "gridWidth": 1},
"header": {"labelFont": "Liberation Serif", "labelFontSize": 23, "labelColor": "#1a1a1a"},
"legend": {"orient": "none", "legendX": 173, "legendY": 584, "direction": "horizontal", "columns": 4, "labelFont": "Liberation Serif", "labelFontSize": 24, "labelColor": "#1a1a1a", "symbolType": "stroke", "symbolSize": 625, "symbolStrokeWidth": 4, "columnPadding": 55, "rowPadding": 6, "labelLimit": 400, "gridAlign": "each"}
}
}
